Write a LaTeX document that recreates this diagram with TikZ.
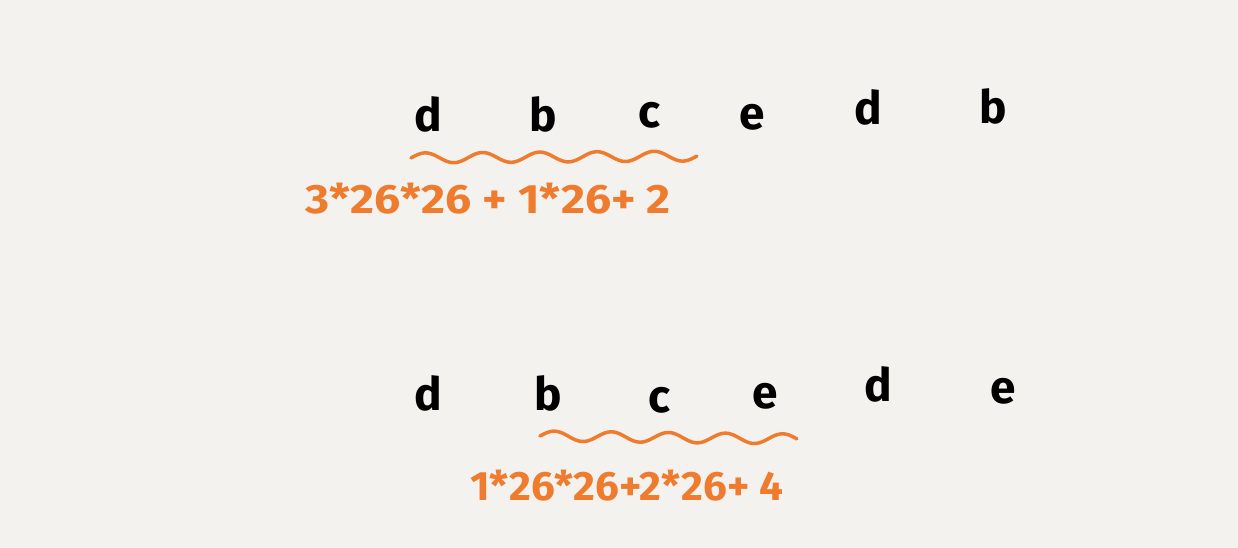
\documentclass[tikz,border=0pt]{standalone}
\usepackage{fontspec}
\setmainfont{Fira Sans}
\definecolor{bg}{HTML}{F4F2EE}
\definecolor{org}{HTML}{EE7B2E}
\tikzset{
  letter/.style={font=\fontsize{46}{46}\selectfont\bfseries, text=black, inner sep=0pt, anchor=base},
  formula/.style={font=\fontsize{41}{41}\selectfont\bfseries, text=org, inner sep=0pt, anchor=base west},
  wave/.style={draw=org, line width=3.5pt, line cap=round, line join=round}
}
\begin{document}
\begin{tikzpicture}[x=1pt,y=-1pt]
\fill[bg] (0,0) rectangle (1238,548);
\useasboundingbox (0,0) rectangle (1238,548);
% top row
\node[letter] (t1) at (428,132) {d};
\node[letter] (t2) at (543,132) {b};
\node[letter] (t3) at (650,128) {c};
\node[letter] (t4) at (752,130) {e};
\node[letter] (t5) at (868,125) {d};
\node[letter] (t6) at (993,124) {b};
\draw[wave] plot[domain=0:1, samples=160, smooth] ({411+286*\x}, {158-2*\x-5*sin(5*360*\x)});
\node[formula] (f1) at (305,213) {\scalebox{1.13}[1]{3*26*26 + 1*26+ 2}};
% bottom row
\node[letter] (b1) at (428,410) {d};
\node[letter] (b2) at (548,410) {b};
\node[letter] (b3) at (660,412) {c};
\node[letter] (b4) at (765,408) {e};
\node[letter] (b5) at (878,401) {d};
\node[letter] (b6) at (1003,403) {e};
\draw[wave] plot[domain=0:1, samples=160, smooth] ({540+257*\x}, {436+3*\x-5*sin(4.5*360*\x)});
\node[formula] (f2) at (470,500) {\scalebox{1.03}[1]{1*26*26+2*26+ 4}};
\end{tikzpicture}
\end{document}
